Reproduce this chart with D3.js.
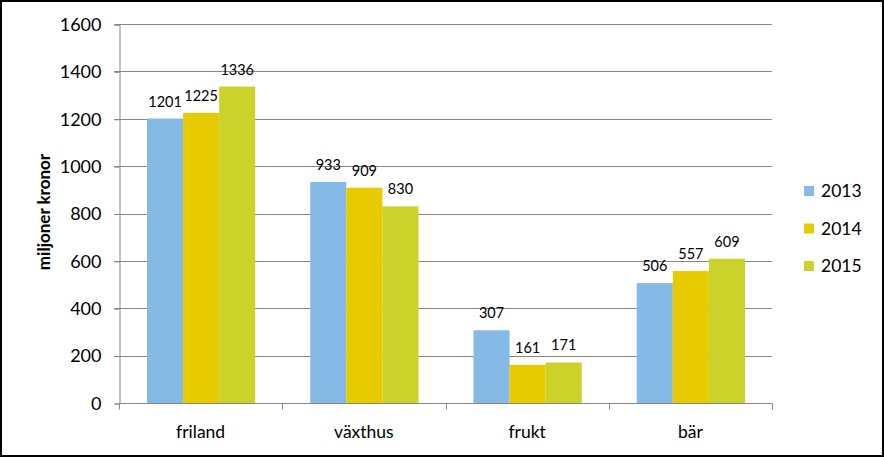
<!DOCTYPE html>
<html>
<head>
<meta charset="utf-8">
<script src="https://cdn.jsdelivr.net/npm/d3@7"></script>
<style>
  body { margin: 0; background: #fff; }
  svg { display: block; font-family: Lato, "Noto Sans", sans-serif; }
</style>
</head>
<body>
<div id="chart"></div>
<script>
// data
const categories = ["friland", "växthus", "frukt", "bär"];
const years = ["2013", "2014", "2015"];
const values2013 = [1201, 933, 307, 506];
const values2014 = [1225, 909, 161, 557];
const values2015 = [1336, 830, 171, 609];
const yTicks = [0, 200, 400, 600, 800, 1000, 1200, 1400, 1600];
const colors = ["#85b9e6", "#e8ca00", "#cbd32b"];

const W = 884, H = 457;
const plot = { left: 119, right: 772, top: 24, bottom: 403 };

const series = [values2013, values2014, values2015];

// Adding the svg
const svg = d3.select("#chart").append("svg")
    .attr("width", W)
    .attr("height", H);

// outer frame
svg.append("rect")
    .attr("x", 1).attr("y", 1)
    .attr("width", W - 2).attr("height", H - 2)
    .attr("fill", "#fff")
    .attr("stroke", "#000")
    .attr("stroke-width", 2);

// scales
const x0 = d3.scaleBand()
    .domain(categories)
    .range([plot.left, plot.right])
    .padding(0);

const x1 = d3.scaleBand()
    .domain(years)
    .range([28, x0.bandwidth() - 27]);

const y = d3.scaleLinear()
    .domain([0, 1600])
    .range([plot.bottom, plot.top]);

// gridlines
svg.append("g")
    .selectAll("line")
    .data(yTicks.filter(d => d > 0))
    .join("line")
    .attr("x1", plot.left - 5)
    .attr("x2", plot.right)
    .attr("y1", d => Math.round(y(d)) + 0.5)
    .attr("y2", d => Math.round(y(d)) + 0.5)
    .attr("stroke", "#878787")
    .attr("stroke-width", 1);

// y axis
const yAxis = svg.append("g")
    .attr("transform", "translate(" + (plot.left + 0.5) + ",0.5)")
    .call(d3.axisLeft(y).tickValues(yTicks).tickFormat(d3.format("d")).tickSize(5).tickPadding(13));
yAxis.selectAll("path, line").attr("stroke", "#878787");
yAxis.selectAll("text")
    .style("font-size", "18px")
    .attr("fill", "#000")
    .style("font-family", "Lato, 'Noto Sans', sans-serif");

// bars
const groups = svg.append("g")
    .selectAll("g")
    .data(categories)
    .join("g")
    .attr("transform", d => "translate(" + x0(d) + ",0)");

groups.selectAll("rect")
    .data((c, i) => years.map((yr, j) => ({ year: yr, value: series[j][i], color: colors[j] })))
    .join("rect")
    .attr("x", d => x1(d.year))
    .attr("y", d => y(d.value))
    .attr("width", x1.bandwidth())
    .attr("height", d => plot.bottom - y(d.value))
    .attr("fill", d => d.color);

// value labels
groups.selectAll("text")
    .data((c, i) => years.map((yr, j) => ({ year: yr, value: series[j][i] })))
    .join("text")
    .attr("x", d => x1(d.year) + x1.bandwidth() / 2)
    .attr("y", d => y(d.value) - 12)
    .attr("text-anchor", "middle")
    .style("font-size", "14.5px")
    .text(d => d.value);

// x axis
const xAxis = svg.append("g")
    .attr("transform", "translate(0," + (plot.bottom + 0.5) + ")");
xAxis.append("line")
    .attr("x1", plot.left).attr("x2", plot.right)
    .attr("stroke", "#878787");
xAxis.selectAll(".tick")
    .data(categories.concat(["end"]))
    .join("line")
    .attr("x1", (d, i) => Math.round(plot.left + i * x0.step()) + 0.5)
    .attr("x2", (d, i) => Math.round(plot.left + i * x0.step()) + 0.5)
    .attr("y1", 0).attr("y2", 6)
    .attr("stroke", "#878787");
xAxis.selectAll("text")
    .data(categories)
    .join("text")
    .attr("x", d => x0(d) + x0.bandwidth() / 2)
    .attr("y", 34)
    .attr("text-anchor", "middle")
    .style("font-size", "17.5px")
    .text(d => d);

// y axis title
svg.append("text")
    .attr("transform", "rotate(-90)")
    .attr("x", -212)
    .attr("y", 50)
    .attr("text-anchor", "middle")
    .style("font-size", "17px")
    .style("font-weight", "bold")
    .text("miljoner kronor");

// legend
const legend = svg.append("g")
    .selectAll("g")
    .data(years)
    .join("g")
    .attr("transform", (d, i) => "translate(804," + (191 + i * 37.5) + ")");
legend.append("rect")
    .attr("x", 0).attr("y", -5)
    .attr("width", 10).attr("height", 10)
    .attr("fill", (d, i) => colors[i]);
legend.append("text")
    .attr("x", 17)
    .attr("y", 6)
    .style("font-size", "17.5px")
    .text(d => d);
</script>
</body>
</html>
